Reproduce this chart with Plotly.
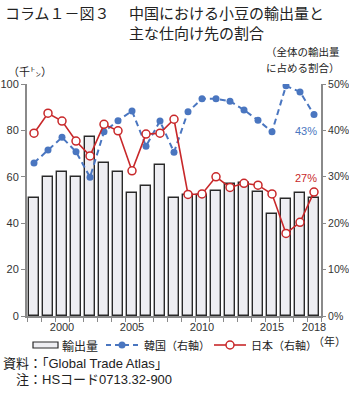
import plotly.graph_objects as go

# China's adzuki bean exports and the share going to main destinations
years = list(range(1998, 2019))
export_volume = [51, 60, 62, 60, 77, 66, 62, 53, 56, 65, 51,
                 52, 52, 54, 57, 57.5, 53.5, 44, 50.5, 53, 51]          # thousand t
korea_share = [33.0, 35.8, 38.5, 35.4, 29.9, 39.7, 42.1, 44.2, 36.6, 42.0, 35.3,
               44.0, 46.8, 46.8, 46.3, 44.4, 42.2, 39.7, 49.6, 48.3, 43.4]  # %
japan_share = [39.4, 43.7, 42.0, 37.7, 34.5, 41.3, 39.9, 31.3, 39.2, 39.4, 42.4,
               26.2, 26.3, 30.0, 27.7, 28.6, 28.2, 26.3, 17.8, 20.2, 26.7]  # %
year_ticks = [2000, 2005, 2010, 2015, 2018]

W, H = 349, 394
L, R, T, B = 27, 28, 84, 78
PW, PH = W - L - R, H - T - B

BLUE = "#4a76c0"
RED = "#c8282a"
AXIS = "#8a8a8a"
JP = "Noto Sans CJK JP"
NUM = "Liberation Sans, Noto Sans CJK JP"


def px(x):
    return (x - L) / PW


def py(y):
    return (H - B - y) / PH


fig = go.Figure()
fig.add_trace(go.Bar(
    x=years, y=export_volume, width=0.72, yaxis="y",
    marker=dict(color="#eeeef2", line=dict(color="#2a2a2a", width=1.4)),
    showlegend=False))
fig.add_trace(go.Scatter(
    x=years, y=korea_share, yaxis="y2", mode="lines+markers",
    line=dict(color=BLUE, width=2, dash="6px,4px"),
    marker=dict(color=BLUE, size=7), showlegend=False))
fig.add_trace(go.Scatter(
    x=years, y=japan_share, yaxis="y2", mode="lines+markers",
    line=dict(color=RED, width=1.6),
    marker=dict(color="white", size=8, line=dict(color=RED, width=1.5)),
    showlegend=False))

annotations = []


def text(x, y, s, size=11, anchor="left", color="#222", family=JP):
    annotations.append(dict(
        x=px(x), y=py(y), xref="paper", yref="paper", text=s, showarrow=False,
        xanchor=anchor, yanchor="middle", font=dict(size=size, color=color, family=family)))


# title
text(3, 12, "コラム１－図３", size=15)
text(127, 12, "中国における小豆の輸出量と", size=15)
text(127, 33, "主な仕向け先の割合", size=15)
# axis units
text(6, 71, "（千㌧）", size=11)
text(342, 52, "（全体の輸出量", size=10.5, anchor="right")
text(342, 67, "に占める割合）", size=10.5, anchor="right")
text(348, 341, "（年）", size=11, anchor="right")
# source notes
text(1, 363, "資料：「Global Trade Atlas」", size=13, family=NUM)
text(1, 379, "　注：HSコード0713.32-900", size=13, family=NUM)

# latest-year value labels
annotations.append(dict(
    x=years[-1], y=korea_share[-1], xref="x", yref="y2",
    text=f"{korea_share[-1]:.0f}%", showarrow=False, xanchor="right", yanchor="middle",
    xshift=5, yshift=-16, font=dict(size=11, color=BLUE, family=NUM)))
annotations.append(dict(
    x=years[-1], y=japan_share[-1], xref="x", yref="y2",
    text=f"{japan_share[-1]:.0f}%", showarrow=False, xanchor="right", yanchor="middle",
    xshift=5, yshift=14, font=dict(size=11, color=RED, family=NUM)))

# legend
ly = 345
shapes = [
    dict(type="rect", xref="paper", yref="paper", x0=px(33), x1=px(58),
         y0=py(348), y1=py(342), fillcolor="#eeeef2", line=dict(color="#2a2a2a", width=1.2)),
    dict(type="line", xref="paper", yref="paper", x0=px(106), x1=px(138),
         y0=py(ly), y1=py(ly), line=dict(color=BLUE, width=2, dash="5px,4px")),
    dict(type="circle", xref="paper", yref="paper", x0=px(118.5), x1=px(125.5),
         y0=py(ly + 3.5), y1=py(ly - 3.5), fillcolor=BLUE, line=dict(color=BLUE, width=0)),
    dict(type="line", xref="paper", yref="paper", x0=px(214), x1=px(246),
         y0=py(ly), y1=py(ly), line=dict(color=RED, width=1.6)),
    dict(type="circle", xref="paper", yref="paper", x0=px(226), x1=px(234),
         y0=py(ly + 4), y1=py(ly - 4), fillcolor="white", line=dict(color=RED, width=1.5)),
]
text(60, ly, "輸出量", size=12)
text(142, ly, "韓国（右軸）", size=11)
text(249, ly, "日本（右軸）", size=11)

fig.update_layout(
    width=W, height=H, margin=dict(l=L, r=R, t=T, b=B, autoexpand=False),
    paper_bgcolor="white", plot_bgcolor="white",
    bargap=0, showlegend=False,
    annotations=annotations, shapes=shapes,
    font=dict(family=NUM, size=11, color="#333"),
    xaxis=dict(
        range=[1997.5, 2018.5], tickmode="array", tickvals=year_ticks,
        ticks="", showgrid=False, zeroline=False, automargin=False,
        showline=True, linecolor=AXIS, linewidth=2,
        tickfont=dict(size=11, color="#333", family=NUM),
        minor=dict(tickmode="linear", tick0=1997.5, dtick=1, ticks="outside",
                   ticklen=4, tickwidth=1.2, tickcolor=AXIS, showgrid=False)),
    yaxis=dict(
        range=[0, 100], dtick=20, ticks="outside", ticklen=4, tickwidth=1.2,
        tickcolor=AXIS, showgrid=False, zeroline=False, automargin=False,
        showline=True, linecolor=AXIS, linewidth=2,
        tickfont=dict(size=11, color="#333", family=NUM)),
    yaxis2=dict(
        range=[0, 50], dtick=10, ticksuffix="%", overlaying="y", side="right",
        ticks="outside", ticklen=3, tickwidth=1.2, tickcolor=AXIS, automargin=False,
        showgrid=False, zeroline=False, showline=True, linecolor=AXIS, linewidth=2,
        tickfont=dict(size=10.5, color="#333", family=NUM)),
)

fig.write_html("out.html")
